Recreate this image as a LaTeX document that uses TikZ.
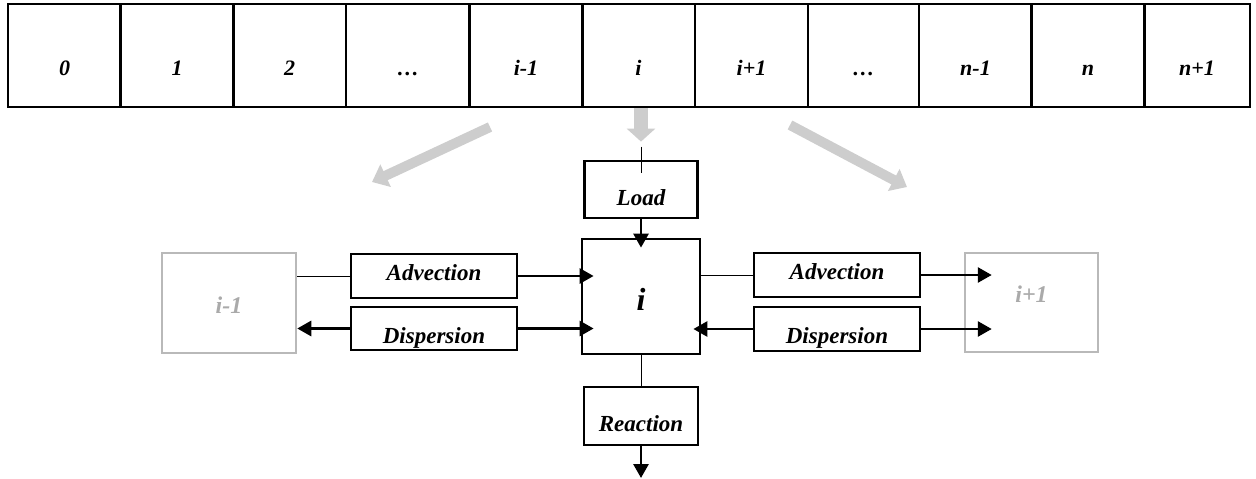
\documentclass[tikz,border=0pt]{standalone}
\usepackage{fontspec}
\setmainfont{Liberation Serif}
\usetikzlibrary{arrows.meta}
\definecolor{fatgrey}{RGB}{205,205,205}
\definecolor{ghostgrey}{RGB}{185,185,185}
\definecolor{ghosttext}{RGB}{170,170,170}

\begin{document}
\begin{tikzpicture}[
    x=1pt, y=-1pt,
    cell/.style={rectangle,draw=black,line width=2.8pt,inner sep=0pt,minimum width=113pt,minimum height=103pt,text height=40pt,text depth=0pt,font=\bfseries\itshape\fontsize{22}{26}\selectfont},
    box/.style={rectangle,draw=black,line width=2.8pt,inner sep=0pt,font=\bfseries\itshape\fontsize{23}{27}\selectfont},
    ghost/.style={rectangle,draw=ghostgrey,line width=2.5pt,inner sep=0pt,text=ghosttext,font=\bfseries\itshape\fontsize{24}{28}\selectfont},
    arr/.style={line width=2.8pt,-{Triangle[width=15pt,length=14pt]}},
    link/.style={line width=1pt},
    fat/.style={draw=fatgrey,line width=10pt,-{Triangle[width=24pt,length=15pt]}}
    ]
    \useasboundingbox (0,0) rectangle (1256,479);
    % row of cells
    \node (c0) [cell] at (64.5,55.5) {0};
    \node (c1) [cell] at (177,55.5) {1};
    \node (c2) [cell] at (289.5,55.5) {2};
    \node (c3) [cell,minimum width=124pt] at (408,55.5) {…};
    \node (c4) [cell] at (526,55.5) {i-1};
    \node (c5) [cell] at (638.5,55.5) {i};
    \node (c6) [cell] at (751.5,55.5) {i+1};
    \node (c7) [cell,minimum width=111pt] at (863.5,55.5) {…};
    \node (c8) [cell] at (975.5,55.5) {n-1};
    \node (c9) [cell] at (1088,55.5) {n};
    \node (c10) [cell,minimum width=106pt] at (1197,55.5) {n+1};
    % one cell in detail
    \node (load) [box,minimum width=113pt,minimum height=57pt,text height=31pt,text depth=0pt] at (641,189.5) {Load};
    \node (unit) [box,minimum width=118pt,minimum height=115pt,text height=27pt,text depth=0pt,font=\bfseries\itshape\fontsize{32}{36}\selectfont] at (641,296.5) {i};
    \node (react) [box,minimum width=114pt,minimum height=58pt,text height=30pt,text depth=0pt] at (641,416) {Reaction};
    \node (advL) [box,minimum width=166pt,minimum height=44pt,text height=10pt,text depth=2pt] at (434,276) {Advection};
    \node (dispL) [box,minimum width=166pt,minimum height=43pt,text height=29pt,text depth=0pt] at (434,328.5) {Dispersion};
    \node (advR) [box,minimum width=166pt,minimum height=44pt,text height=10pt,text depth=2pt] at (837,275) {Advection};
    \node (dispR) [box,minimum width=166pt,minimum height=44pt,text height=29pt,text depth=0pt] at (837,329) {Dispersion};
    \node (prev) [ghost,minimum width=134pt,minimum height=100pt,text height=20pt,text depth=0pt] at (229,303) {i-1};
    \node (next) [ghost,minimum width=133pt,minimum height=99pt,text height=0pt,text depth=0pt] at (1031.5,302.5) {i+1};
    \coordinate (sink) at (641,478);
    \coordinate (ltail) at (490,127);
    \coordinate (lhead) at (372,182);
    \coordinate (rtail) at (790,125);
    \coordinate (rhead) at (907,187);
    % grey arrows
    \draw[fat] (ltail) -- (lhead);
    \draw[fat] (rtail) -- (rhead);
    \draw[fat,line width=14pt,-{Triangle[width=28pt,length=13pt]}] (c5.south -| load.north) -- ([yshift=18pt]load.north);
    % connectors
    \draw[link] ([yshift=13pt]load.north) -- ([yshift=-13pt]load.north);
    \draw[arr] (load.south) -- ([yshift=-10pt]unit.north);
    \draw[link] (unit.south) -- (react.north);
    \draw[arr] (react.south) -- (sink);
    \draw[link] (prev.east |- advL.west) -- (advL.west);
    \draw[arr] (advL.east) -- ([xshift=13pt]advL.east -| unit.west);
    \draw[arr] (dispL.west) -- (dispL.west -| prev.east);
    \draw[arr] (dispL.east) -- ([xshift=13pt]dispL.east -| unit.west);
    \draw[link] (unit.east |- advR.west) -- (advR.west);
    \draw[arr] (advR.east) -- ([xshift=28pt]advR.east -| next.west);
    \draw[arr] (dispR.west) -- ([xshift=-8pt]dispR.west -| unit.east);
    \draw[arr] (dispR.east) -- ([xshift=28pt]dispR.east -| next.west);
  \end{tikzpicture}
\end{document}
